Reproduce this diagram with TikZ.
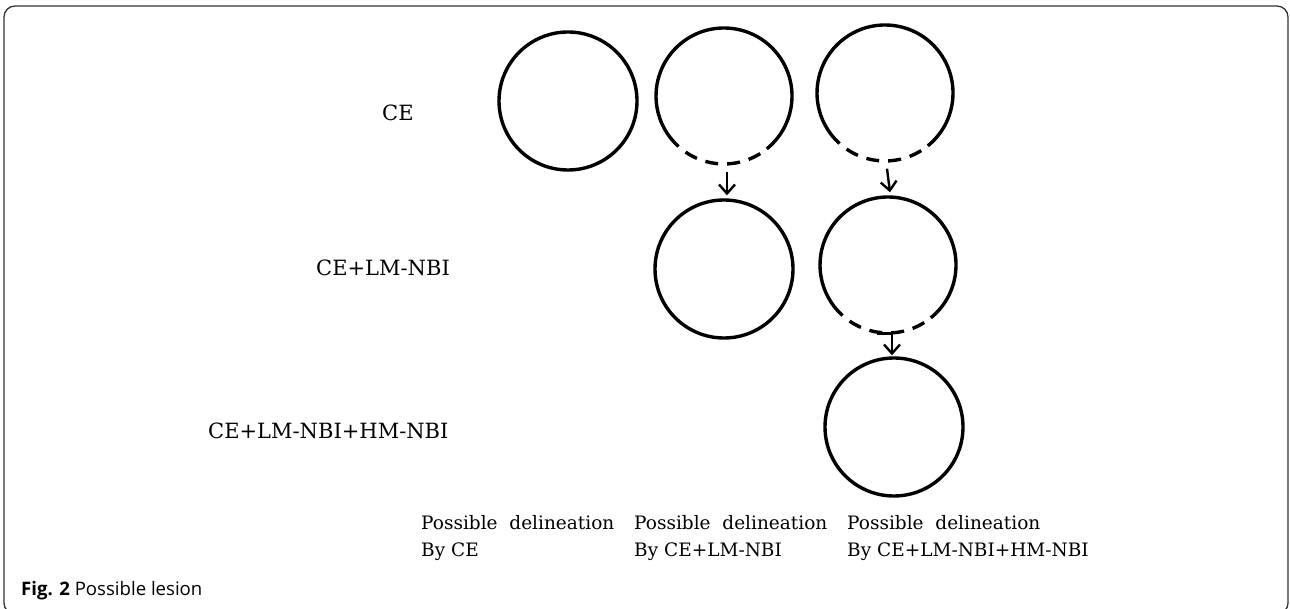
\documentclass[tikz,border=0pt]{standalone}
\usepackage{fontspec}
\setmainfont{DejaVu Serif}
\newfontfamily\capfont{Open Sans}
\usetikzlibrary{arrows.meta,calc}
\begin{document}
\begin{tikzpicture}[x=1pt,y=1pt,
  ring/.style={circle, inner sep=0pt, line width=3.4pt},
  arc line/.style={line width=3.4pt},
  dashpart/.style={line width=3.4pt, dash pattern=on 13pt off 9pt, dash phase=13pt},
  arr/.style={line width=2.4pt, -{Straight Barb[length=9pt,width=16pt]}},
  rowlab/.style={font=\fontsize{21}{25}\selectfont, anchor=west, inner sep=0pt},
  collab/.style={font=\fontsize{18.5}{27}\selectfont, align=left, anchor=west, inner sep=0pt}]
\useasboundingbox (0,0) rectangle (1290,608);
\clip (0,0) rectangle (1290,608);
% frame
\draw[rounded corners=11pt, line width=1.3pt, black!80] (4,-6) rectangle (1288,602);
% circles
\node[ring, draw, minimum size=138pt] (c1) at (568,507) {};
\node[ring, minimum size=136pt] (c2) at (724,512) {};
\node[ring, minimum size=136pt] (c3) at (885,515) {};
\node[ring, draw, minimum size=138pt] (d2) at (724,339) {};
\node[ring, minimum size=136pt] (d3) at (888,343) {};
\node[ring, draw, minimum size=138pt] (e3) at (894,181) {};
% partly dashed circles
\foreach \c in {c2,c3,d3}{
  \draw[arc line] (\c.center) ++(309:68) arc[start angle=309, end angle=588, radius=68];
  \draw[dashpart] (\c.center) ++(228:68) arc[start angle=228, end angle=309, radius=68];
}
% arrows
\draw[arr] ([xshift=3pt,yshift=-6pt]c2.south) -- ([xshift=3pt,yshift=3pt]d2.north);
\draw[arr] ([xshift=2pt,yshift=-6pt]c3.south) -- ([xshift=2pt,yshift=3pt]d3.north);
\draw[arr] ([xshift=-11pt,yshift=1pt]d3.south) -| ([xshift=-2pt,yshift=1pt]e3.north);
% row labels
\node[rowlab] (l1) at (382,495) {CE};
\node[rowlab] (l2) at (316,340) {CE+LM-NBI};
\node[rowlab] (l3) at (208,177) {CE+LM-NBI+HM-NBI};
% column labels
\node[collab] (b1) at (421,70) {Possible\ \ delineation\\By CE};
\node[collab] (b2) at (634,70) {Possible\ \ delineation\\By CE+LM-NBI};
\node[collab] (b3) at (847,70) {Possible\ \ delineation\\By CE+LM-NBI+HM-NBI};
% caption
\node[anchor=base west, inner sep=0pt, font=\capfont\fontsize{18.6}{22}\selectfont] (cap) at (21,13) {\textbf{Fig. 2} Possible lesion};
\end{tikzpicture}
\end{document}
